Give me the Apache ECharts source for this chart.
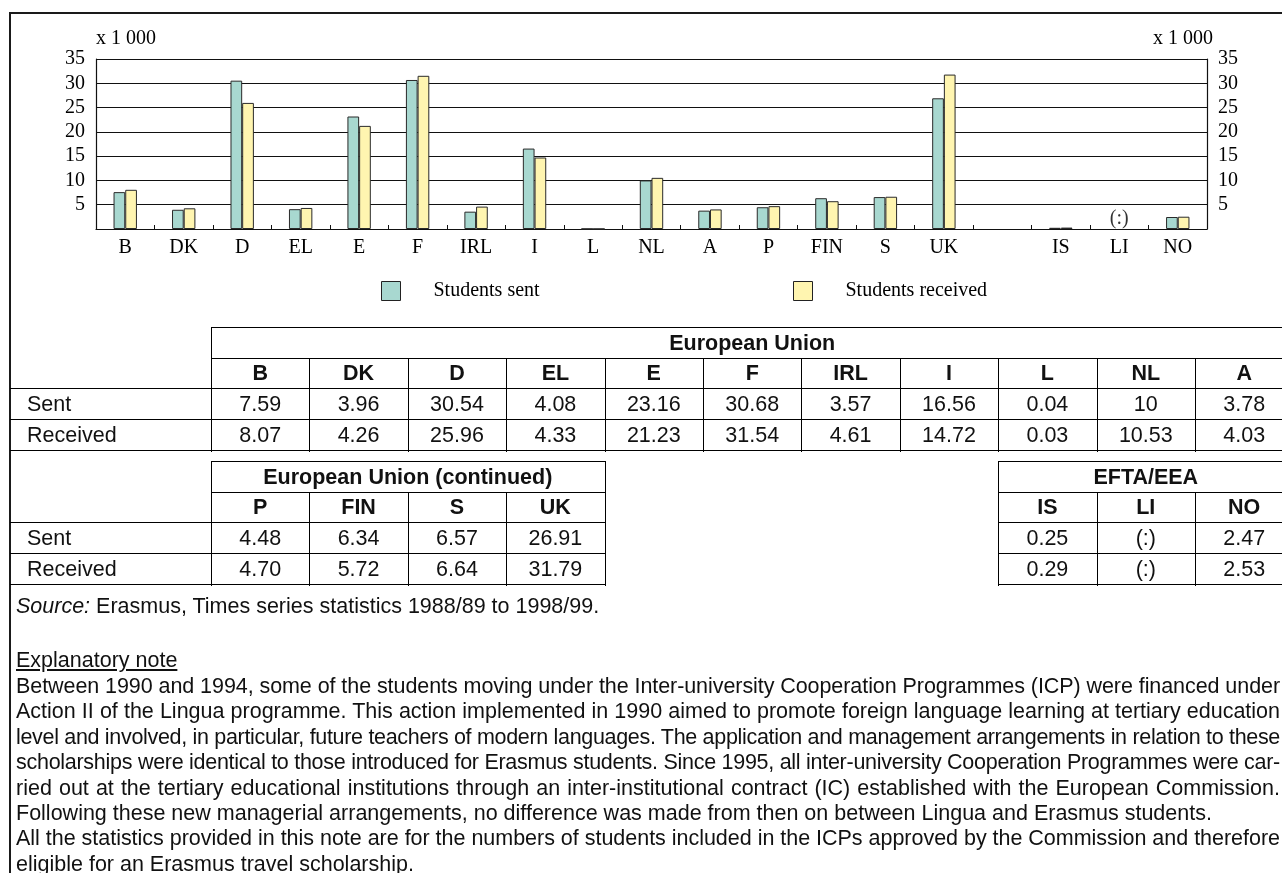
<!DOCTYPE html>
<html>
<head>
<meta charset="utf-8">
<title>Erasmus students sent and received</title>
<script src="https://cdn.jsdelivr.net/npm/echarts@6/dist/echarts.min.js"></script>
<style>
  html, body { margin: 0; padding: 0; background: #fff; }
  body { width: 1282px; height: 873px; overflow: hidden; position: relative; }
  #chart { position: absolute; left: 0; top: 0; width: 1282px; height: 320px; }
  #sheet { position: absolute; left: 0; top: 0; width: 1282px; height: 873px; pointer-events: none; }
  .frame { position: absolute; left: 9px; top: 12px; width: 1400px; height: 1000px; border: 2px solid #1a1a1a; box-sizing: border-box; }
  .hl { position: absolute; height: 1px; background: #000; }
  .vl { position: absolute; width: 1px; background: #000; }
  .t { position: absolute; font-family: "Liberation Sans", Arial, sans-serif; font-size: 21.5px; color: #111; white-space: nowrap; line-height: 24px; height: 24px; }
  .c { text-align: center; }
  .b { font-weight: bold; }
</style>
</head>
<body>
<div id="chart"></div>
<div id="sheet"><div class="frame"></div></div>
<script>
// Country codes along the axis (empty slot separates EU from EFTA/EEA)
const categories = ['B', 'DK', 'D', 'EL', 'E', 'F', 'IRL', 'I', 'L', 'NL', 'A', 'P', 'FIN', 'S', 'UK', '', 'IS', 'LI', 'NO'];

// Students (thousands), as printed; '(:)' = not available
const sentRaw = ['7.59', '3.96', '30.54', '4.08', '23.16', '30.68', '3.57', '16.56', '0.04', '10', '3.78', '4.48', '6.34', '6.57', '26.91', '', '0.25', '(:)', '2.47'];
const receivedRaw = ['8.07', '4.26', '25.96', '4.33', '21.23', '31.54', '4.61', '14.72', '0.03', '10.53', '4.03', '4.70', '5.72', '6.64', '31.79', '', '0.29', '(:)', '2.53'];

const seriesNames = ['Students sent', 'Students received'];
const rowLabels = ['Sent', 'Received'];
const unitLabel = 'x 1 000';

// Table blocks: heading and the category indices they list
const tableBlocks = [
  { title: 'European Union', from: 0, to: 10 },
  { title: 'European Union (continued)', from: 11, to: 14 },
  { title: 'EFTA/EEA', from: 16, to: 18 }
];

const sourceLine = 'Erasmus, Times series statistics 1988/89 to 1998/99.';
const noteTitle = 'Explanatory note';
const noteLines = [
  ['Between 1990 and 1994, some of the students moving under the Inter-university Cooperation Programmes (ICP) were financed under', true],
  ['Action II of the Lingua programme. This action implemented in 1990 aimed to promote foreign language learning at tertiary education', true],
  ['level and involved, in particular, future teachers of modern languages. The application and management arrangements in relation to these', true],
  ['scholarships were identical to those introduced for Erasmus students. Since 1995, all inter-university Cooperation Programmes were car-', true],
  ['ried out at the tertiary educational institutions through an inter-institutional contract (IC) established with the European Commission.', true],
  ['Following these new managerial arrangements, no difference was made from then on between Lingua and Erasmus students.', false],
  ['All the statistics provided in this note are for the numbers of students included in the ICPs approved by the Commission and therefore', true],
  ['eligible for an Erasmus travel scholarship.', false]
];

const toValue = s => { const v = parseFloat(s); return isNaN(v) ? null : v; };
const sentValues = sentRaw.map(toValue);
const receivedValues = receivedRaw.map(toValue);
// categories whose figures are not available get a '(:)' marker on the axis
const naMarks = categories.map((c, i) => sentRaw[i] === '(:)' ? [c, 0] : null).filter(Boolean);

const serif = '"Liberation Serif", "Times New Roman", serif';
const ink = '#111';

const chart = echarts.init(document.getElementById('chart'), null, { renderer: 'canvas' });

const valueAxis = (pos) => ({
  type: 'value',
  position: pos,
  min: 0, max: 35, interval: 5,
  name: unitLabel,
  nameLocation: 'end',
  nameGap: 10,
  nameTextStyle: {
    fontFamily: serif, fontSize: 20, color: '#000',
    align: pos === 'left' ? 'left' : 'right',
    padding: pos === 'left' ? [0, 0, 0, 0] : [0, -6, 0, 0]
  },
  axisLine: { show: true, lineStyle: { color: ink, width: 1.2 } },
  axisTick: { show: false },
  splitLine: { show: pos === 'left', lineStyle: { color: ink, width: 1.2 } },
  axisLabel: {
    margin: 11, fontFamily: serif, fontSize: 20, color: '#000',
    formatter: v => (v === 0 ? '' : String(v))
  }
});

const legendBox = (name, left) => ({
  data: [name],
  left: left, top: 276,
  icon: 'rect',
  itemWidth: 19, itemHeight: 19,
  selectedMode: false,
  itemStyle: { borderColor: '#222', borderWidth: 1 },
  textStyle: { fontFamily: serif, fontSize: 20, color: '#000', padding: [0, 0, 0, 28] }
});

chart.setOption({
  animation: false,
  grid: { left: 96, top: 59, width: 1111, height: 170, containLabel: false },
  legend: [legendBox(seriesNames[0], 376), legendBox(seriesNames[1], 788)],
  xAxis: {
    type: 'category',
    data: categories,
    axisLine: { lineStyle: { color: ink, width: 1.2 } },
    axisTick: { show: true, inside: true, length: 4, lineStyle: { color: ink } },
    axisLabel: { interval: 0, margin: 9, fontFamily: serif, fontSize: 20, color: '#000' }
  },
  yAxis: [valueAxis('left'), valueAxis('right')],
  series: [
    {
      name: seriesNames[0], type: 'bar', data: sentValues,
      barWidth: '20%', barGap: '0%',
      itemStyle: { color: '#a8d8d0', borderColor: '#2a2a2a', borderWidth: 1 }
    },
    {
      name: seriesNames[1], type: 'bar', data: receivedValues,
      barWidth: '20%', barGap: '0%',
      itemStyle: { color: '#fff5b0', borderColor: '#2a2a2a', borderWidth: 1 }
    },
    {
      name: 'n/a', type: 'scatter', data: naMarks,
      symbolSize: 1, itemStyle: { color: 'rgba(0,0,0,0)' },
      label: { show: true, position: 'top', distance: 0, formatter: '(:)', fontFamily: serif, fontSize: 20, color: '#000' }
    }
  ]
});

// ---- tables and notes ----
const sheet = document.getElementById('sheet');
function add(cls, css, txt) {
  const d = document.createElement('div');
  d.className = cls;
  Object.assign(d.style, css);
  if (txt !== undefined) d.textContent = txt;
  sheet.appendChild(d);
  return d;
}
const hLine = (x1, x2, y) => add('hl', { left: x1 + 'px', top: Math.round(y) + 'px', width: (x2 - x1) + 'px' });
const vLine = (x, y1, y2) => add('vl', { left: Math.round(x) + 'px', top: y1 + 'px', height: (y2 - y1) + 'px' });
const cellText = (x1, x2, yMid, txt, bold) =>
  add('t c' + (bold ? ' b' : ''), { left: x1 + 'px', width: (x2 - x1) + 'px', top: (yMid - 12) + 'px' }, txt);
const leftText = (x, yMid, txt) => add('t', { left: x + 'px', top: (yMid - 12) + 'px' }, txt);

const frameX = 10, colX0 = 211, colW = 98.4, farRight = 1320;

function drawBlock(block, x0, rows, lineFrom, lineTo, withLabels) {
  const n = block.to - block.from + 1;
  const xr = x0 + n * colW;
  const right = Math.min(xr, farRight);
  hLine(x0, right, rows[0]);
  hLine(x0, right, rows[1]);
  for (let r = 2; r < 5; r++) hLine(lineFrom, Math.min(lineTo, right), rows[r]);
  vLine(x0, rows[0], rows[4] + 2);
  for (let k = 1; k <= n; k++) {
    const x = x0 + k * colW;
    vLine(x, k === n ? rows[0] : rows[1], rows[4] + 2);
  }
  cellText(x0, xr, (rows[0] + rows[1]) / 2, block.title, true);
  for (let k = 0; k < n; k++) {
    const i = block.from + k, a = x0 + k * colW, b = a + colW;
    cellText(a, b, (rows[1] + rows[2]) / 2, categories[i], true);
    cellText(a, b, (rows[2] + rows[3]) / 2, sentRaw[i], false);
    cellText(a, b, (rows[3] + rows[4]) / 2, receivedRaw[i], false);
  }
  if (withLabels) {
    leftText(27, (rows[2] + rows[3]) / 2, rowLabels[0]);
    leftText(27, (rows[3] + rows[4]) / 2, rowLabels[1]);
  }
}

const rowsA = [327, 358, 388, 419, 450];
const rowsB = [461, 492, 522, 553, 584];
drawBlock(tableBlocks[0], colX0, rowsA, frameX, farRight, true);
drawBlock(tableBlocks[1], colX0, rowsB, frameX, colX0 + 4 * colW, true);
drawBlock(tableBlocks[2], colX0 + 8 * colW, rowsB, colX0 + 8 * colW, farRight, false);

// Source line
const src = add('t', { left: '16px', top: (606 - 12) + 'px' });
const em = document.createElement('i');
em.textContent = 'Source:';
src.appendChild(em);
src.appendChild(document.createTextNode(' ' + sourceLine));

// Explanatory note: justified lines; overlong lines are tightened letter by letter
add('t', { left: '16px', top: (660 - 12) + 'px', textDecoration: 'underline' }, noteTitle);
const textRight = 1280, textLeft = 16, avail = textRight - textLeft;
noteLines.forEach(([line, justify], i) => {
  const d = add('t', { left: textLeft + 'px', top: (685.7 + i * 25.45 - 12) + 'px' }, line);
  const w = d.getBoundingClientRect().width;
  if (w > avail) {
    d.style.letterSpacing = ((avail - w) / line.length) + 'px';
  } else if (justify) {
    const gaps = (line.match(/ /g) || []).length;
    if (gaps) d.style.wordSpacing = ((avail - w) / gaps) + 'px';
  }
});
</script>
</body>
</html>
